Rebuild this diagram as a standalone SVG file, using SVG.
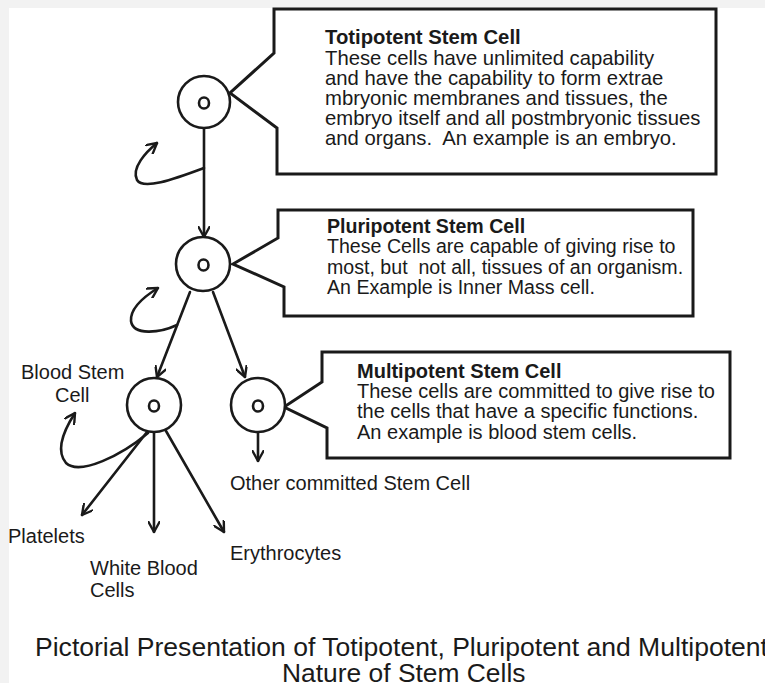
<svg xmlns="http://www.w3.org/2000/svg" width="765" height="683" viewBox="0 0 765 683">
<defs>
<style>
.t{font-family:"Liberation Sans",Arial,sans-serif;font-size:20px;fill:#1a1a1a;white-space:pre}
.b{font-weight:bold}
.cell{fill:#fff;stroke:#1a1a1a;stroke-width:2.6}
.nuc{fill:none;stroke:#1a1a1a;stroke-width:2.6}
.box{fill:#fff;stroke:#1a1a1a;stroke-width:3;stroke-linejoin:miter}
.c{fill:none;stroke:#1a1a1a;stroke-width:2.6;stroke-linecap:round}
</style>
<marker id="ah" viewBox="0 0 12 12" refX="11" refY="6" markerWidth="12" markerHeight="12" markerUnits="userSpaceOnUse" orient="auto">
<path d="M1,0.5 L11,6 L1,11.5" fill="none" stroke="#1a1a1a" stroke-width="2.4" stroke-linecap="round" stroke-linejoin="round"/>
</marker>
</defs>
<rect x="0" y="0" width="765" height="683" fill="#f2f2f2"/>
<rect x="9" y="8" width="756" height="675" fill="#fff"/>

<g id="totipotent-box">
<path class="box" d="M274,53 L274,9 L716,9 L716,174 L277,174 L277,128 L230,93 Z"/>
<text class="t" xml:space="preserve" x="325" y="44" style="font-size:20.3px"><tspan class="b">Totipotent Stem Cell</tspan><tspan x="325" y="65">These cells have unlimited capability</tspan><tspan x="325" y="85">and have the capability to form extrae</tspan><tspan x="325" y="105">mbryonic membranes and tissues, the</tspan><tspan x="325" y="125">embryo itself and all postmbryonic tissues</tspan><tspan x="325" y="145">and organs.  An example is an embryo.</tspan></text>
</g>

<g id="pluripotent-box">
<path class="box" d="M278,238 L278,210 L693,210 L693,316 L284,316 L284,287 L233,264 Z"/>
<text class="t" xml:space="preserve" x="327" y="233" style="font-size:19.6px"><tspan class="b">Pluripotent Stem Cell</tspan><tspan x="327" y="253">These Cells are capable of giving rise to</tspan><tspan x="327" y="274">most, but  not all, tissues of an organism.</tspan><tspan x="327" y="294">An Example is Inner Mass cell.</tspan></text>
</g>

<g id="multipotent-box">
<path class="box" d="M322,382 L322,352 L730,352 L730,458 L327,458 L327,428 L284,407 Z"/>
<text class="t" xml:space="preserve" x="357" y="378"><tspan class="b">Multipotent Stem Cell</tspan><tspan x="357" y="398">These cells are committed to give rise to</tspan><tspan x="357" y="418">the cells that have a specific functions.</tspan><tspan x="357" y="439">An example is blood stem cells.</tspan></text>
</g>

<g id="connectors">
<line class="c" x1="204" y1="129" x2="204" y2="237" marker-end="url(#ah)"/>
<line class="c" x1="190" y1="292" x2="157" y2="377" marker-end="url(#ah)"/>
<line class="c" x1="213" y1="292" x2="245" y2="377" marker-end="url(#ah)"/>
<line class="c" x1="258" y1="432" x2="258" y2="461" marker-end="url(#ah)"/>
<line class="c" x1="147" y1="432" x2="82" y2="515" marker-end="url(#ah)"/>
<line class="c" x1="154" y1="432" x2="154" y2="532" marker-end="url(#ah)"/>
<line class="c" x1="166" y1="431" x2="224" y2="532" marker-end="url(#ah)"/>
<path class="c" d="M204,168 C172,180 143,190 137,180 C131,168 146,152 157,143" marker-end="url(#ah)"/>
<path class="c" d="M177,325 C160,333 133,336 131,321 C130,308 145,296 158,288" marker-end="url(#ah)"/>
<path class="c" d="M148,433 C122,455 80,476 66,463 C55,450 64,430 75,413" marker-end="url(#ah)"/>
</g>

<g id="totipotent-cell">
<circle class="cell" cx="204" cy="102" r="26"/>
<ellipse class="nuc" cx="204" cy="103" rx="5" ry="5.5"/>
</g>
<g id="pluripotent-cell">
<circle class="cell" cx="203" cy="264" r="27"/>
<ellipse class="nuc" cx="203.5" cy="265" rx="5" ry="5.5"/>
</g>
<g id="blood-stem-cell">
<circle class="cell" cx="154" cy="405" r="27"/>
<ellipse class="nuc" cx="154" cy="406" rx="5" ry="5.5"/>
<text class="t" x="21" y="379">Blood Stem</text>
<text class="t" x="55" y="402">Cell</text>
</g>
<g id="multipotent-cell">
<circle class="cell" cx="258" cy="405" r="27"/>
<ellipse class="nuc" cx="258" cy="406" rx="5" ry="5.5"/>
</g>

<g id="platelets"><text class="t" x="8" y="543">Platelets</text></g>
<g id="white-blood-cells"><text class="t" x="90" y="575">White Blood</text><text class="t" x="90" y="597">Cells</text></g>
<g id="erythrocytes"><text class="t" x="230" y="560">Erythrocytes</text></g>
<g id="other-committed"><text class="t" x="230" y="490">Other committed Stem Cell</text></g>

<g id="caption">
<text class="t" x="35" y="656" style="font-size:26.4px" textLength="733" lengthAdjust="spacingAndGlyphs">Pictorial Presentation of Totipotent, Pluripotent and Multipotent</text>
<text class="t" x="282" y="682" style="font-size:26.4px">Nature of Stem Cells</text>
</g>
</svg>
